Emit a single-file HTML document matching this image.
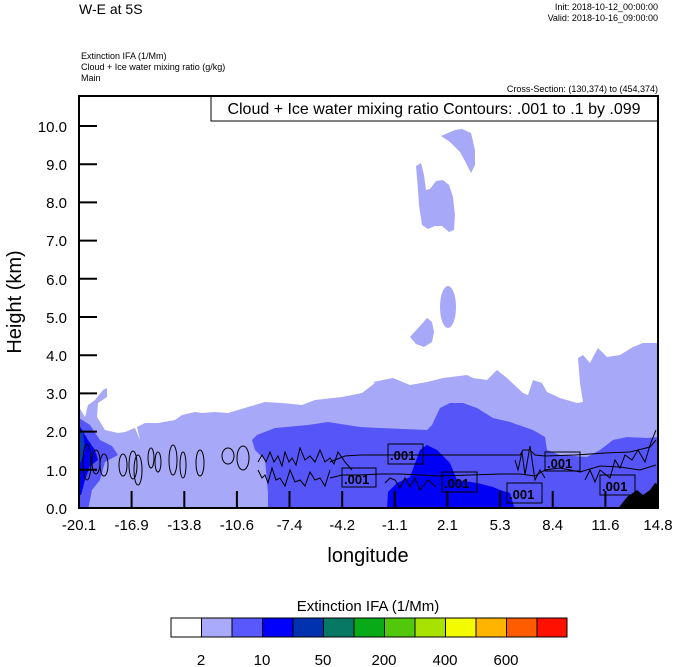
<!DOCTYPE html>
<html><head><meta charset="utf-8"><style>
body{margin:0;background:#fff;}
svg{display:block;font-family:"Liberation Sans",sans-serif;}
</style></head><body>
<svg width="674" height="667" viewBox="0 0 674 667" xmlns="http://www.w3.org/2000/svg">
<rect width="674" height="667" fill="#fff"/>
<text x="79" y="14" font-size="14">W-E at 5S</text>
<text x="658" y="10" font-size="9" text-anchor="end">Init: 2018-10-12_00:00:00</text>
<text x="658" y="21" font-size="9" text-anchor="end">Valid: 2018-10-16_09:00:00</text>
<text x="81" y="59" font-size="9">Extinction IFA   (1/Mm)</text>
<text x="81" y="70" font-size="9">Cloud + Ice water mixing ratio   (g/kg)</text>
<text x="81" y="81" font-size="9">Main</text>
<text x="658" y="92" font-size="9" text-anchor="end">Cross-Section: (130,374) to (454,374)</text>

<clipPath id="c"><rect x="79" y="96" width="579" height="412"/></clipPath>
<g clip-path="url(#c)">
<polygon fill="#a8a8f8" points="79,407 85,417 88,405 95,400 103,390 107,388 107,397 98,403 97,417 105,430 118,433 125,432 130,430 135,428 140,440 137,427 145,423 158,423 175,420 182,415 195,412 202,413 215,412 228,413 248,407 265,402 282,403 302,405 315,400 342,397 362,393 375,383 373,382 393,378 410,385 427,382 443,378 467,375 473,378 487,380 497,370 507,378 523,393 528,395 533,380 542,383 547,392 560,398 577,403 583,402 580,383 578,358 583,355 590,363 593,357 598,348 607,357 620,355 633,347 643,343 660,343 660,510 79,510"/>
<polygon fill="#a8a8f8" points="441,136 455,130 462,129 471,133 475,150 475,165 471,173 466,163 460,152 450,142"/>
<polygon fill="#a8a8f8" points="416,166 421,163 424,175 426,190 430,189 436,181 443,180 449,185 453,197 455,215 454,230 449,232 442,226 435,226 428,229 422,225 419,205 418,190"/>
<ellipse cx="448" cy="307" rx="8" ry="21" fill="#a8a8f8"/>
<polygon fill="#a8a8f8" points="410,337 420,326 427,318 432,322 434,332 432,342 424,347 416,344"/>
<polygon fill="#5656f8" points="252,440 257,435 275,428 308,425 328,422 360,427 380,428 427,430 432,425 440,408 450,403 463,403 477,408 493,418 510,422 533,430 545,437 547,450 560,455 587,457 600,450 613,440 627,437 647,438 660,437 660,510 268,510 268,493 265,460 255,450"/>
<polygon fill="#5656f8" points="79,418 90,425 100,440 112,446 118,455 105,462 100,480 92,490 88,510 79,510"/>
<polygon fill="#0000f4" points="387,510 388,492 397,483 410,477 420,450 427,445 437,450 450,463 457,480 477,483 493,487 500,490 510,493 515,510"/>
<polygon fill="#0000f4" points="79,425 88,440 95,450 98,460 90,466 85,480 81,495 79,495"/>
<polygon fill="#0a3cb4" points="79,430 83,432 85,450 81,462 79,462"/>
<polygon fill="#000" points="617,510 627,497 637,490 643,495 650,490 655,483 660,485 660,510"/>
<g fill="none" stroke="#000" stroke-width="1">
<polyline points="330,462 345,456 360,455 520,455 523,450 530,450 535,455 545,456 575,455 605,453 630,452 650,447 656,440"/>
<polyline points="330,478 342,475 360,475 380,474 400,474 440,476 470,475 500,474 520,474 535,476 545,470 560,468 580,472 600,466 620,467 640,470 656,465"/>
<polyline points="258,462 262,455 266,462 270,452 274,462 278,456 282,466 285,452 289,462 292,458 296,465 300,448 305,460 310,456 315,462 320,450 325,462 330,458 334,464 338,452 345,462 352,470"/>
<polyline points="258,470 262,478 265,475 268,483 272,468 276,480 280,478 285,486 290,470 295,482 300,480 305,486 310,472 315,480 320,478 325,486 330,470"/>
<polyline points="385,483 390,478 395,480 400,488 405,478 410,487 415,478 420,490 428,480 436,487"/>
<polyline points="515,460 518,470 522,452 525,475 530,446 535,480 540,470 545,478"/>
<polyline points="585,480 590,470 595,482 600,470 610,478 615,460 620,468 625,455 632,460 638,450 645,462 650,445 656,430"/>
<ellipse cx="87" cy="462" rx="4" ry="18"/>
<ellipse cx="96" cy="462" rx="4" ry="12"/>
<ellipse cx="104" cy="465" rx="4" ry="11"/>
<ellipse cx="123" cy="465" rx="4" ry="11"/>
<ellipse cx="133" cy="465" rx="4" ry="14"/>
<ellipse cx="138" cy="470" rx="4" ry="15"/>
<ellipse cx="151" cy="458" rx="3" ry="10"/>
<ellipse cx="158" cy="462" rx="3" ry="10"/>
<ellipse cx="173" cy="460" rx="4" ry="15"/>
<ellipse cx="183" cy="465" rx="3" ry="13"/>
<ellipse cx="200" cy="463" rx="4" ry="13"/>
<ellipse cx="228" cy="456" rx="6" ry="8"/>
<ellipse cx="243" cy="458" rx="6" ry="12"/>
</g>
<g font-size="13" font-weight="bold">
<rect x="388" y="444" width="35" height="20" fill="none" stroke="#000"/><text x="390" y="460">.001</text>
<rect x="342" y="468" width="34" height="19" fill="none" stroke="#000"/><text x="344" y="484">.001</text>
<rect x="442" y="472" width="35" height="20" fill="none" stroke="#000"/><text x="444" y="488">.001</text>
<rect x="507" y="483" width="35" height="20" fill="none" stroke="#000"/><text x="509" y="499">.001</text>
<rect x="545" y="452" width="35" height="19" fill="none" stroke="#000"/><text x="547" y="468">.001</text>
<rect x="600" y="475" width="35" height="20" fill="none" stroke="#000"/><text x="602" y="491">.001</text>
</g>
</g>
<rect x="211" y="96" width="447" height="25" fill="#fff" stroke="#000" stroke-width="1"/>
<text x="434" y="114" font-size="16" text-anchor="middle">Cloud + Ice water mixing ratio Contours: .001 to .1 by .099</text>
<rect x="79" y="96" width="579" height="412" fill="none" stroke="#000" stroke-width="2"/>
<g stroke="#000" stroke-width="2">
<line x1="79" y1="469.8" x2="97" y2="469.8"/><line x1="79" y1="431.6" x2="97" y2="431.6"/>
<line x1="79" y1="393.4" x2="97" y2="393.4"/><line x1="79" y1="355.2" x2="97" y2="355.2"/>
<line x1="79" y1="317" x2="97" y2="317"/><line x1="79" y1="278.8" x2="97" y2="278.8"/>
<line x1="79" y1="240.6" x2="97" y2="240.6"/><line x1="79" y1="202.4" x2="97" y2="202.4"/>
<line x1="79" y1="164.2" x2="97" y2="164.2"/><line x1="79" y1="126" x2="97" y2="126"/>
<line x1="131.6" y1="508" x2="131.6" y2="491"/><line x1="184.3" y1="508" x2="184.3" y2="491"/>
<line x1="236.9" y1="508" x2="236.9" y2="491"/><line x1="289.5" y1="508" x2="289.5" y2="491"/>
<line x1="342.2" y1="508" x2="342.2" y2="491"/><line x1="394.8" y1="508" x2="394.8" y2="491"/>
<line x1="447.4" y1="508" x2="447.4" y2="491"/><line x1="500.1" y1="508" x2="500.1" y2="491"/>
<line x1="552.7" y1="508" x2="552.7" y2="491"/><line x1="605.4" y1="508" x2="605.4" y2="491"/>
</g>
<g font-size="15" text-anchor="end">
<text x="67" y="514">0.0</text><text x="67" y="476">1.0</text><text x="67" y="437">2.0</text>
<text x="67" y="399">3.0</text><text x="67" y="361">4.0</text><text x="67" y="323">5.0</text>
<text x="67" y="285">6.0</text><text x="67" y="246">7.0</text><text x="67" y="208">8.0</text>
<text x="67" y="170">9.0</text><text x="67" y="132">10.0</text>
</g>
<g font-size="15" text-anchor="middle">
<text x="79" y="530">-20.1</text><text x="131.6" y="530">-16.9</text><text x="184.3" y="530">-13.8</text>
<text x="236.9" y="530">-10.6</text><text x="289.5" y="530">-7.4</text><text x="342.2" y="530">-4.2</text>
<text x="394.8" y="530">-1.1</text><text x="447.4" y="530">2.1</text><text x="500.1" y="530">5.3</text>
<text x="552.7" y="530">8.4</text><text x="605.4" y="530">11.6</text><text x="658" y="530">14.8</text>
</g>
<text x="368" y="562" font-size="20" text-anchor="middle">longitude</text>
<text transform="translate(21,302) rotate(-90)" font-size="20" text-anchor="middle">Height (km)</text>
<text x="368" y="611" font-size="15" text-anchor="middle">Extinction IFA  (1/Mm)</text>
<g stroke="#000" stroke-width="1">
<rect x="171" y="618" width="30.5" height="19" fill="#ffffff"/>
<rect x="201.5" y="618" width="30.5" height="19" fill="#aaaafc"/>
<rect x="232" y="618" width="30.5" height="19" fill="#5858fc"/>
<rect x="262.5" y="618" width="30.5" height="19" fill="#0000fc"/>
<rect x="293" y="618" width="30.5" height="19" fill="#0032b0"/>
<rect x="323.5" y="618" width="30.5" height="19" fill="#067864"/>
<rect x="354" y="618" width="30.5" height="19" fill="#08aa18"/>
<rect x="384.5" y="618" width="30.5" height="19" fill="#52c80c"/>
<rect x="415" y="618" width="30.5" height="19" fill="#a8e202"/>
<rect x="445.5" y="618" width="30.5" height="19" fill="#f4fa00"/>
<rect x="476" y="618" width="30.5" height="19" fill="#ffb400"/>
<rect x="506.5" y="618" width="30.5" height="19" fill="#ff5c00"/>
<rect x="537" y="618" width="30" height="19" fill="#ff1000"/>
</g>
<g font-size="15" text-anchor="middle">
<text x="201" y="665">2</text><text x="262" y="665">10</text><text x="323" y="665">50</text>
<text x="384" y="665">200</text><text x="445" y="665">400</text><text x="506" y="665">600</text>
</g>
</svg>
</body></html>
